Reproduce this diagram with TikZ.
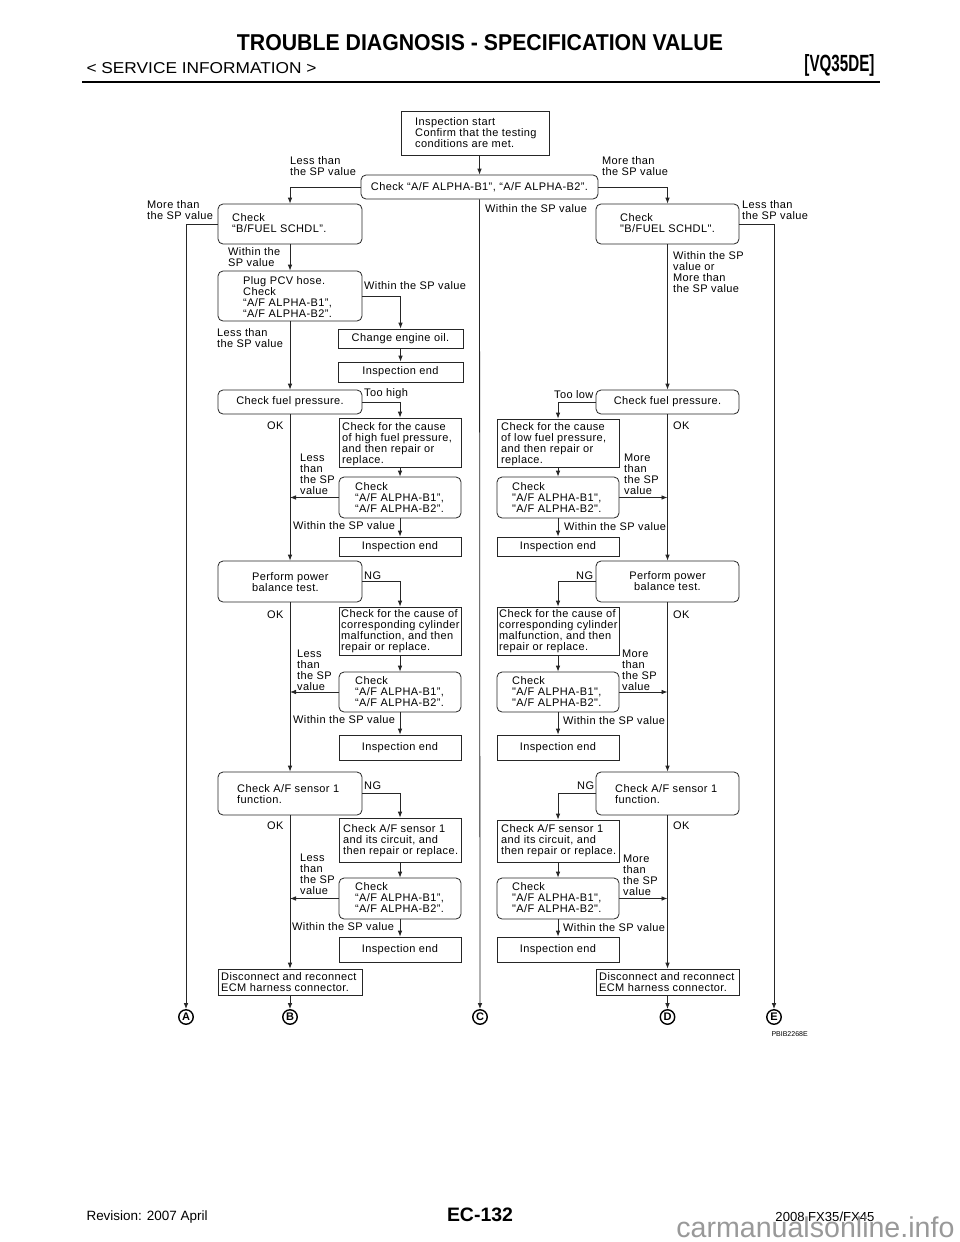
\documentclass[tikz,border=0pt]{standalone}
\usepackage{graphicx}
\usepackage{fontspec}
\setmainfont{Liberation Sans}
\newfontfamily\dg[LetterSpace=3.5]{Liberation Sans}
\usetikzlibrary{arrows.meta,fit}
\begin{document}
\begin{tikzpicture}[x=1pt,y=-1pt,
 ln/.style={line width=0.8pt, draw=black!85},
 arr/.style={ln, -{Latex[length=6pt,width=4.6pt]}},
 rbox/.style={ln, draw, rounded corners=5pt, inner sep=0pt, fit={#1}},
 sbox/.style={ln, draw, inner sep=0pt, fit={#1}},
 dfont/.style={font=\dg\fontsize{11pt}{11pt}\selectfont},
 txt/.style={dfont, align=left, anchor=west, inner sep=0pt},
 ctxt/.style={dfont, align=center, anchor=center, inner sep=0pt},
 circ/.style={circle, draw, line width=1.4pt, minimum size=14.5pt, inner sep=0pt, font=\bfseries\fontsize{11pt}{11pt}\selectfont},
]
\fill[white] (0,0) rectangle (960,1242);
\useasboundingbox (0,0) rectangle (960,1242);

% header
\node (title) at (480,43) {\resizebox{486pt}{16pt}{\bfseries TROUBLE DIAGNOSIS - SPECIFICATION VALUE}};
\node[anchor=west] (svc) at (83,68) {\resizebox{230pt}{11pt}{< SERVICE INFORMATION >}};
\node[anchor=east] (vq) at (878,65) {\resizebox{70pt}{17pt}{\bfseries [VQ35DE]}};
\draw[line width=2.5pt] (82,82) -- (880,82);

% footer
\node[anchor=west] (rev) at (83,1217) {\resizebox{121pt}{!}{Revision: 2007 April}};
\node (ec) at (480,1215) {\resizebox{66pt}{!}{\bfseries EC-132}};
\node[anchor=east] (fx) at (878,1217) {\resizebox{99pt}{!}{2008 FX35/FX45}};
\node[anchor=east, text=black!40] (wm) at (958,1227) {\resizebox{278pt}{!}{carmanualsonline.info}};

% boxes
\node[sbox={(401,111) (549,155)}] (start) {};
\node[txt] (startt) at (415,133) {Inspection start\\Confirm that the testing\\conditions are met.};
\node[rbox={(361,175) (598,199)}] (main) {};
\node[ctxt] (maint) at (main.center) {Check “A/F ALPHA-B1”, “A/F ALPHA-B2”.};

\node[rbox={(218,204) (362,244)}] (bfL) {};
\node[txt] (bfLt) at (232,223) {Check\\“B/FUEL SCHDL”.};
\node[rbox={(596,204) (739,244)}] (bfR) {};
\node[txt] (bfRt) at (620,223) {Check\\"B/FUEL SCHDL".};

\node[rbox={(218,271) (362,321)}] (pcv) {};
\node[txt] (pcvt) at (243,297) {Plug PCV hose.\\Check\\“A/F ALPHA-B1”,\\“A/F ALPHA-B2”.};
\node[sbox={(338,329) (463,348)}] (oil) {};
\node[ctxt] (oilt) at (oil.center) {Change engine oil.};
\node[sbox={(338,362) (463,382)}] (end0) {};
\node[ctxt] (end0t) at (end0.center) {Inspection end};

% left column
\node[rbox={(218,390) (362,414)}] (fpL) {};
\node[ctxt] (fpLt) at (fpL.center) {Check fuel pressure.};
\node[sbox={(339,418) (461,467)}] (hiC) {};
\node[txt] (hiCt) at (342,444) {Check for the cause\\of high fuel pressure,\\and then repair or\\replace.};
\node[rbox={(339,477) (461,518)}] (chkL1) {};
\node[txt] (chkL1t) at (355,498) {Check\\“A/F ALPHA-B1”,\\“A/F ALPHA-B2”.};
\node[sbox={(339,537) (461,556)}] (endL1) {};
\node[ctxt] (endL1t) at (endL1.center) {Inspection end};

\node[rbox={(218,561) (362,602)}] (pwL) {};
\node[txt] (pwLt) at (252,582) {Perform power\\balance test.};
\node[sbox={(339,607) (461,655)}] (cylL) {};
\node[txt] (cylLt) at (341,631) {Check for the cause of\\corresponding cylinder\\malfunction, and then\\repair or replace.};
\node[rbox={(339,672) (461,712)}] (chkL2) {};
\node[txt] (chkL2t) at (355,692) {Check\\“A/F ALPHA-B1”,\\“A/F ALPHA-B2”.};
\node[sbox={(339,735) (461,760)}] (endL2) {};
\node[ctxt] (endL2t) at (endL2.center) {Inspection end};

\node[rbox={(218,772) (362,815)}] (snL) {};
\node[txt] (snLt) at (237,794) {Check A/F sensor 1\\function.};
\node[sbox={(339,818) (461,862)}] (sncL) {};
\node[txt] (sncLt) at (343,841) {Check A/F sensor 1\\and its circuit, and\\then repair or replace.};
\node[rbox={(339,878) (461,919)}] (chkL3) {};
\node[txt] (chkL3t) at (355,898) {Check\\“A/F ALPHA-B1”,\\“A/F ALPHA-B2”.};
\node[sbox={(339,937) (461,962)}] (endL3) {};
\node[ctxt] (endL3t) at (endL3.center) {Inspection end};

\node[sbox={(218,969) (362,995)}] (dcL) {};
\node[txt] (dcLt) at (221,982) {Disconnect and reconnect\\ECM harness connector.};

% right column
\node[rbox={(596,390) (739,414)}] (fpR) {};
\node[ctxt] (fpRt) at (fpR.center) {Check fuel pressure.};
\node[sbox={(497,419) (619,467)}] (loC) {};
\node[txt] (loCt) at (501,444) {Check for the cause\\of low fuel pressure,\\and then repair or\\replace.};
\node[rbox={(497,477) (619,518)}] (chkR1) {};
\node[txt] (chkR1t) at (512,498) {Check\\"A/F ALPHA-B1",\\"A/F ALPHA-B2".};
\node[sbox={(497,537) (619,556)}] (endR1) {};
\node[ctxt] (endR1t) at (endR1.center) {Inspection end};

\node[rbox={(596,561) (739,602)}] (pwR) {};
\node[ctxt] (pwRt) at (pwR.center) {Perform power\\balance test.};
\node[sbox={(497,607) (619,655)}] (cylR) {};
\node[txt] (cylRt) at (499,631) {Check for the cause of\\corresponding cylinder\\malfunction, and then\\repair or replace.};
\node[rbox={(497,672) (619,712)}] (chkR2) {};
\node[txt] (chkR2t) at (512,692) {Check\\"A/F ALPHA-B1",\\"A/F ALPHA-B2".};
\node[sbox={(497,735) (619,760)}] (endR2) {};
\node[ctxt] (endR2t) at (endR2.center) {Inspection end};

\node[rbox={(596,772) (739,815)}] (snR) {};
\node[txt] (snRt) at (615,794) {Check A/F sensor 1\\function.};
\node[sbox={(497,820) (619,862)}] (sncR) {};
\node[txt] (sncRt) at (501,841) {Check A/F sensor 1\\and its circuit, and\\then repair or replace.};
\node[rbox={(497,878) (619,919)}] (chkR3) {};
\node[txt] (chkR3t) at (512,898) {Check\\"A/F ALPHA-B1",\\"A/F ALPHA-B2".};
\node[sbox={(497,937) (619,962)}] (endR3) {};
\node[ctxt] (endR3t) at (endR3.center) {Inspection end};

\node[sbox={(596,969) (739,995)}] (dcR) {};
\node[txt] (dcRt) at (599,982) {Disconnect and reconnect\\ECM harness connector.};

% circles
\node[circ] (A) at (186,1017) {A};
\node[circ] (B) at (290,1017) {B};
\node[circ] (C) at (480,1017) {C};
\node[circ] (D) at (667.5,1017) {D};
\node[circ] (E) at (774,1017) {E};
\node[anchor=west, font=\fontsize{7}{7}\selectfont] (code) at (768,1034) {PBIB2268E};

% connectors
\draw[arr] (main.north |- start.south) -- (main.north);
\draw[arr] (main.west) -| (bfL.north);
\draw[arr] (main.east) -| (bfR.north);
\draw[arr] (main.south) -- (C.north);
\draw[arr] (bfL.west) -| (A.north);
\draw[arr] (bfR.east) -| (E.north);
\draw[arr] (bfL.south) -- (pcv.north);
\draw[arr] (pcv.east) -| (oil.north);
\draw[arr] (oil.south) -- (end0.north);
\draw[arr] (pcv.south) -- (fpL.north);
\draw[arr] (fpL.east) -| (hiC.north);
\draw[arr] (hiC.south) -- (chkL1.north);
\draw[arr] (chkL1.west) -- (chkL1.west -| fpL.south);
\draw[arr] (chkL1.south) -- (endL1.north);
\draw[arr] (fpL.south) -- (pwL.north);
\draw[arr] (pwL.east) -| (cylL.north);
\draw[arr] (cylL.south) -- (chkL2.north);
\draw[arr] (chkL2.west) -- (chkL2.west -| pwL.south);
\draw[arr] (chkL2.south) -- (endL2.north);
\draw[arr] (pwL.south) -- (snL.north);
\draw[arr] (snL.east) -| (sncL.north);
\draw[arr] (sncL.south) -- (chkL3.north);
\draw[arr] (chkL3.west) -- (chkL3.west -| snL.south);
\draw[arr] (chkL3.south) -- (endL3.north);
\draw[arr] (snL.south) -- (dcL.north);
\draw[arr] (dcL.south) -- (B.north);

\draw[arr] (bfR.south) -- (fpR.north);
\draw[arr] (fpR.west) -| (loC.north);
\draw[arr] (loC.south) -- (chkR1.north);
\draw[arr] (chkR1.east) -- (chkR1.east -| fpR.south);
\draw[arr] (chkR1.south) -- (endR1.north);
\draw[arr] (fpR.south) -- (pwR.north);
\draw[arr] (pwR.west) -| (cylR.north);
\draw[arr] (cylR.south) -- (chkR2.north);
\draw[arr] (chkR2.east) -- (chkR2.east -| pwR.south);
\draw[arr] (chkR2.south) -- (endR2.north);
\draw[arr] (pwR.south) -- (snR.north);
\draw[arr] (snR.west) -| (sncR.north);
\draw[arr] (sncR.south) -- (chkR3.north);
\draw[arr] (chkR3.east) -- (chkR3.east -| snR.south);
\draw[arr] (chkR3.south) -- (endR3.north);
\draw[arr] (snR.south) -- (dcR.north);
\draw[arr] (dcR.south) -- (D.north);

% labels
\node[txt] (l1) at (290,166) {Less than\\the SP value};
\node[txt] (l2) at (602,166) {More than\\the SP value};
\node[txt] (l3) at (147,210) {More than\\the SP value};
\node[txt] (l4) at (742,210) {Less than\\the SP value};
\node[txt] (l5) at (485,209) {Within the SP value};
\node[txt] (l6) at (228,257) {Within the\\SP value};
\node[txt] (l7) at (673,272) {Within the SP\\value or\\More than\\the SP value};
\node[txt] (l8) at (364,286) {Within the SP value};
\node[txt] (l9) at (217,338) {Less than\\the SP value};
\node[txt] (l10) at (364,394) {Too high};
\node[txt] (l11) at (554,395) {Too low};
\node[txt] (l12) at (267,426) {OK};
\node[txt] (l13) at (673,426) {OK};
\node[txt] (l14) at (300,474) {Less\\than\\the SP\\value};
\node[txt] (l15) at (624,474) {More\\than\\the SP\\value};
\node[txt] (l16) at (293,526) {Within the SP value};
\node[txt] (l17) at (564,527) {Within the SP value};
\node[txt] (l18) at (364,576) {NG};
\node[txt] (l19) at (576,576) {NG};
\node[txt] (l20) at (267,615) {OK};
\node[txt] (l21) at (673,615) {OK};
\node[txt] (l22) at (297,670) {Less\\than\\the SP\\value};
\node[txt] (l23) at (622,670) {More\\than\\the SP\\value};
\node[txt] (l24) at (293,720) {Within the SP value};
\node[txt] (l25) at (563,721) {Within the SP value};
\node[txt] (l26) at (364,786) {NG};
\node[txt] (l27) at (577,786) {NG};
\node[txt] (l28) at (267,826) {OK};
\node[txt] (l29) at (673,826) {OK};
\node[txt] (l30) at (300,874) {Less\\than\\the SP\\value};
\node[txt] (l31) at (623,875) {More\\than\\the SP\\value};
\node[txt] (l32) at (292,927) {Within the SP value};
\node[txt] (l33) at (563,928) {Within the SP value};
\end{tikzpicture}
\end{document}
